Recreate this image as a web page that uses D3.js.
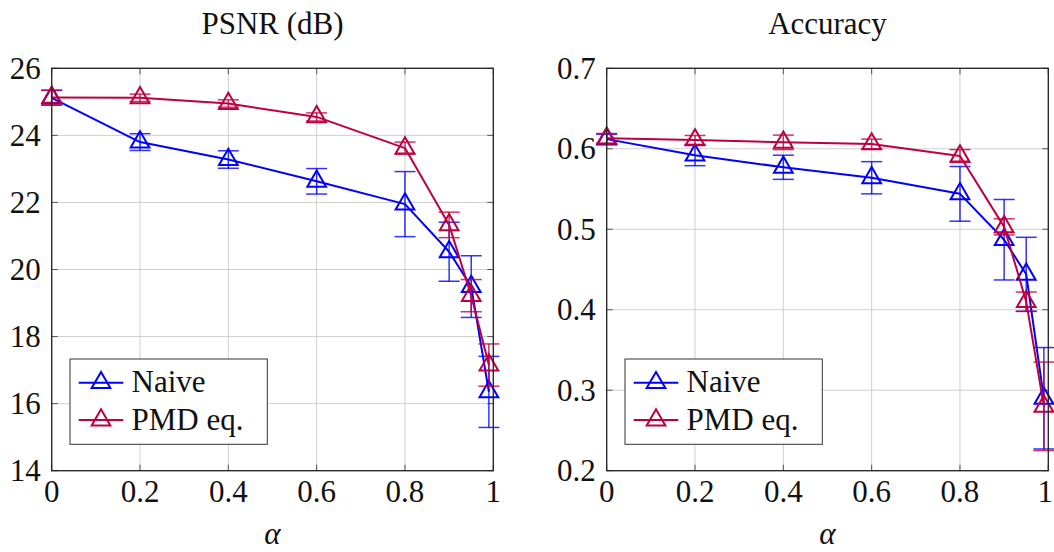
<!DOCTYPE html>
<html>
<head>
<meta charset="utf-8">
<script src="https://cdn.jsdelivr.net/npm/d3@7/dist/d3.min.js"></script>
<style>
  html, body { margin: 0; padding: 0; background: #fff; }
  svg { display: block; }
</style>
</head>
<body>
<svg id="chart" width="1054" height="552"></svg>
<script>
// Sweep of the mixing parameter alpha
const alpha = [0, 0.2, 0.4, 0.6, 0.8, 0.9, 0.95, 0.99];

// PSNR (dB): mean and spread per alpha
const psnrNaive    = [25.12, 23.80, 23.28, 22.63, 21.95, 20.53, 19.49, 16.35];
const psnrNaiveErr = [0.22, 0.25, 0.26, 0.38, 0.97, 0.88, 0.92, 1.06];
const psnrPmd      = [25.13, 25.12, 24.95, 24.55, 23.62, 21.33, 19.22, 17.15];
const psnrPmdErr   = [0.22, 0.11, 0.11, 0.12, 0.18, 0.38, 0.48, 0.63];

// Accuracy: mean and spread per alpha
const accNaive    = [0.612, 0.592, 0.577, 0.564, 0.544, 0.487, 0.444, 0.290];
const accNaiveErr = [0.006, 0.013, 0.015, 0.020, 0.034, 0.050, 0.046, 0.063];
const accPmd      = [0.613, 0.611, 0.608, 0.606, 0.591, 0.503, 0.410, 0.280];
const accPmdErr   = [0.006, 0.0055, 0.009, 0.006, 0.008, 0.010, 0.012, 0.055];

// Tick values and labels
const xTicks = [0, 0.2, 0.4, 0.6, 0.8, 1];
const xTickLabels = ["0", "0.2", "0.4", "0.6", "0.8", "1"];
const psnrTicks = [14, 16, 18, 20, 22, 24, 26];
const accTicks = [0.2, 0.3, 0.4, 0.5, 0.6, 0.7];
const accTickLabels = ["0.2", "0.3", "0.4", "0.5", "0.6", "0.7"];

const seriesNames = ["Naive", "PMD eq."];
const seriesColors = ["#0000ff", "#bf0040"];

const SERIF = '"Liberation Serif", "Times New Roman", serif';
const svg = d3.select("#chart");
const FONT = 31;
const MARK_R = 10.8;

function trianglePath(r) {
  const h = r * Math.sqrt(3) / 2;
  return `M0,${-r}L${h},${r / 2}L${-h},${r / 2}Z`;
}

function addText(sel) {
  return sel.append("text")
    .style("font-family", SERIF)
    .style("font-size", FONT + "px")
    .attr("fill", "#111");
}

function drawPanel(cfg) {
  const x = d3.scaleLinear().domain([0, 1]).range([cfg.left, cfg.right]);
  const y = d3.scaleLinear().domain(cfg.yDomain).range([cfg.bottom, cfg.top]);
  const g = svg.append("g");

  // grid
  const grid = g.append("g").attr("stroke", "#cfcfcf").attr("stroke-width", 1);
  grid.selectAll("line.gx").data(xTicks).join("line")
    .attr("x1", d => x(d)).attr("x2", d => x(d))
    .attr("y1", cfg.top).attr("y2", cfg.bottom);
  grid.selectAll("line.gy").data(cfg.yTicks).join("line")
    .attr("x1", cfg.left).attr("x2", cfg.right)
    .attr("y1", d => y(d)).attr("y2", d => y(d));

  // inward tick marks on all four sides
  const tk = 6;
  const ticks = g.append("g").attr("stroke", "#555").attr("stroke-width", 1);
  xTicks.forEach(d => {
    ticks.append("line").attr("x1", x(d)).attr("x2", x(d)).attr("y1", cfg.bottom).attr("y2", cfg.bottom - tk);
    ticks.append("line").attr("x1", x(d)).attr("x2", x(d)).attr("y1", cfg.top).attr("y2", cfg.top + tk);
  });
  cfg.yTicks.forEach(d => {
    ticks.append("line").attr("y1", y(d)).attr("y2", y(d)).attr("x1", cfg.left).attr("x2", cfg.left + tk);
    ticks.append("line").attr("y1", y(d)).attr("y2", y(d)).attr("x1", cfg.right).attr("x2", cfg.right - tk);
  });

  // tick labels
  xTicks.forEach((d, i) => {
    const last = x(d) > 1040;
    addText(g).attr("x", last ? 1053 : x(d)).attr("y", cfg.bottom + 31)
      .attr("text-anchor", last ? "end" : "middle")
      .text(xTickLabels[i]);
  });
  cfg.yTicks.forEach((d, i) => {
    addText(g).attr("x", cfg.left - 11).attr("y", y(d))
      .attr("dy", "0.34em").attr("text-anchor", "end")
      .text(cfg.yTickLabels[i]);
  });

  // series: line, error bars, markers
  const line = d3.line().x(d => x(d.a)).y(d => y(d.v));
  cfg.series.forEach((s, si) => {
    const color = seriesColors[si];
    const pts = alpha.map((a, i) => ({ a, v: s.values[i], e: s.errors[i] }));
    const sg = g.append("g");
    sg.append("path").datum(pts).attr("d", line)
      .attr("fill", "none").attr("stroke", color).attr("stroke-width", 2)
      .attr("stroke-linejoin", "round");
    const eb = sg.append("g").attr("stroke", color).attr("stroke-width", 1.5).attr("stroke-opacity", 0.8);
    pts.forEach(p => {
      const cx = x(p.a), y1 = y(p.v + p.e), y2 = y(p.v - p.e);
      eb.append("line").attr("x1", cx).attr("x2", cx).attr("y1", y1).attr("y2", y2);
      eb.append("line").attr("x1", cx - 10.5).attr("x2", cx + 10.5).attr("y1", y1).attr("y2", y1);
      eb.append("line").attr("x1", cx - 10.5).attr("x2", cx + 10.5).attr("y1", y2).attr("y2", y2);
    });
    sg.selectAll("path.mk").data(pts).join("path")
      .attr("class", "mk")
      .attr("d", trianglePath(MARK_R))
      .attr("transform", p => `translate(${x(p.a)},${y(p.v)})`)
      .attr("fill", "none").attr("stroke", color).attr("stroke-width", 2);
  });

  // frame
  g.append("rect")
    .attr("x", cfg.left).attr("y", cfg.top)
    .attr("width", cfg.right - cfg.left).attr("height", cfg.bottom - cfg.top)
    .attr("fill", "none").attr("stroke", "#222").attr("stroke-width", 1.3);

  // title and x label
  addText(g).attr("x", (cfg.left + cfg.right) / 2).attr("y", 34)
    .attr("text-anchor", "middle").text(cfg.title);
  addText(g).attr("x", (cfg.left + cfg.right) / 2).attr("y", 544)
    .attr("text-anchor", "middle")
    .style("font-style", "italic").text("α");

  // legend
  const lx = cfg.left + 18.3, ly = cfg.bottom - 26.4 - 85.3;
  const lg = g.append("g").attr("transform", `translate(${lx},${ly})`);
  lg.append("rect").attr("width", 197.3).attr("height", 85.3)
    .attr("fill", "#fff").attr("stroke", "#333").attr("stroke-width", 1);
  seriesNames.forEach((name, i) => {
    const ry = 23.7 + i * 37.4;
    lg.append("line").attr("x1", 8.7).attr("x2", 53.3).attr("y1", ry).attr("y2", ry)
      .attr("stroke", seriesColors[i]).attr("stroke-width", 2);
    lg.append("path").attr("d", trianglePath(MARK_R))
      .attr("transform", `translate(31,${ry})`)
      .attr("fill", "none").attr("stroke", seriesColors[i]).attr("stroke-width", 2);
    addText(lg).attr("x", 61.5).attr("y", ry + 9.5).text(name);
  });
}

drawPanel({
  left: 51.7, right: 493.3, top: 68.3, bottom: 470.7,
  yDomain: [14, 26], yTicks: psnrTicks, yTickLabels: psnrTicks.map(String),
  title: "PSNR (dB)",
  series: [
    { values: psnrNaive, errors: psnrNaiveErr },
    { values: psnrPmd, errors: psnrPmdErr }
  ]
});

drawPanel({
  left: 606.7, right: 1048.3, top: 68.3, bottom: 470.7,
  yDomain: [0.2, 0.7], yTicks: accTicks, yTickLabels: accTickLabels,
  title: "Accuracy",
  series: [
    { values: accNaive, errors: accNaiveErr },
    { values: accPmd, errors: accPmdErr }
  ]
});
</script>
</body>
</html>
